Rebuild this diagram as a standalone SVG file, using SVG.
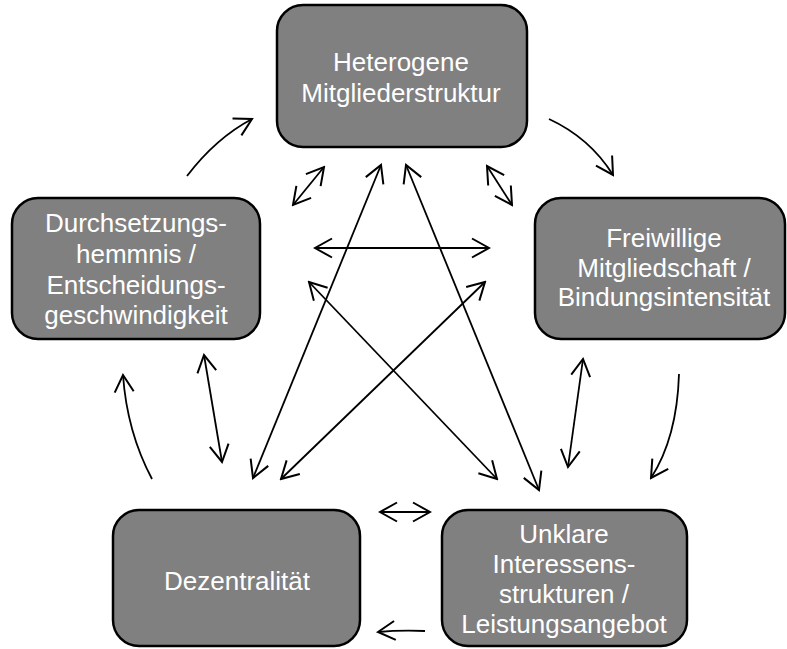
<svg xmlns="http://www.w3.org/2000/svg" width="787" height="649" viewBox="0 0 787 649">
<style>
.box{fill:#808080;stroke:#000;stroke-width:2.5}
.lbl{font-family:"Liberation Sans",Arial,sans-serif;font-size:26px;fill:#fff;text-anchor:middle}
.c{fill:none;stroke:#000;stroke-width:1.8}
.one{marker-end:url(#ah)}
.two{marker-start:url(#ah);marker-end:url(#ah)}
</style>
<defs>
<marker id="ah" markerUnits="userSpaceOnUse" viewBox="-20 -12 22 24" refX="0" refY="0" markerWidth="22" markerHeight="24" orient="auto-start-reverse">
<path d="M-17,-9.5 L0,0 L-17,9.5" fill="none" stroke="#000" stroke-width="2"/>
</marker>
</defs>
<rect width="787" height="649" fill="#fff"/>
<g id="connectors">
<path class="c one" d="M187,176 Q216,138 252,119"/>
<path class="c one" d="M549,119 Q590,138 613,175"/>
<path class="c one" d="M679,374 Q677,438 651,478"/>
<path class="c one" d="M425,631 Q400,630 378,632"/>
<path class="c one" d="M152,479 Q127,432 123,375"/>
<path class="c two" d="M204,355 L222,462"/>
<path class="c two" d="M583,359 L568,467"/>
<path class="c two" d="M324,167 L293,205"/>
<path class="c two" d="M487,166 L512,205"/>
<path class="c two" d="M315,248 L489,248"/>
<path class="c two" d="M380,512 L430,512"/>
<path class="c two" d="M381,165 L253,478"/>
<path class="c two" d="M406,165 L539,490"/>
<path class="c two" d="M309,282 L497,479"/>
<path class="c two" d="M485,282 L281,479"/>
</g>
<g id="n-heterogene">
<rect class="box" x="277" y="5" width="250" height="142" rx="26"/>
<text class="lbl" x="401" y="71">Heterogene</text>
<text class="lbl" x="401" y="102">Mitgliederstruktur</text>
</g>
<g id="n-durchsetzung">
<rect class="box" x="12" y="198" width="248" height="141" rx="26"/>
<text class="lbl" x="136" y="232">Durchsetzungs-</text>
<text class="lbl" x="136" y="263">hemmnis /</text>
<text class="lbl" x="136" y="294">Entscheidungs-</text>
<text class="lbl" x="136" y="324">geschwindigkeit</text>
</g>
<g id="n-freiwillige">
<rect class="box" x="535" y="198" width="250" height="141" rx="26"/>
<text class="lbl" x="664" y="247">Freiwillige</text>
<text class="lbl" x="664" y="277">Mitgliedschaft /</text>
<text class="lbl" x="664" y="306">Bindungsintensität</text>
</g>
<g id="n-dezentralitaet">
<rect class="box" x="113" y="510" width="247" height="136" rx="26"/>
<text class="lbl" x="237" y="590">Dezentralität</text>
</g>
<g id="n-unklare">
<rect class="box" x="442" y="510" width="245" height="136" rx="26"/>
<text class="lbl" x="564" y="543">Unklare</text>
<text class="lbl" x="564" y="573">Interessens-</text>
<text class="lbl" x="564" y="603">strukturen /</text>
<text class="lbl" x="564" y="633">Leistungsangebot</text>
</g>
</svg>
